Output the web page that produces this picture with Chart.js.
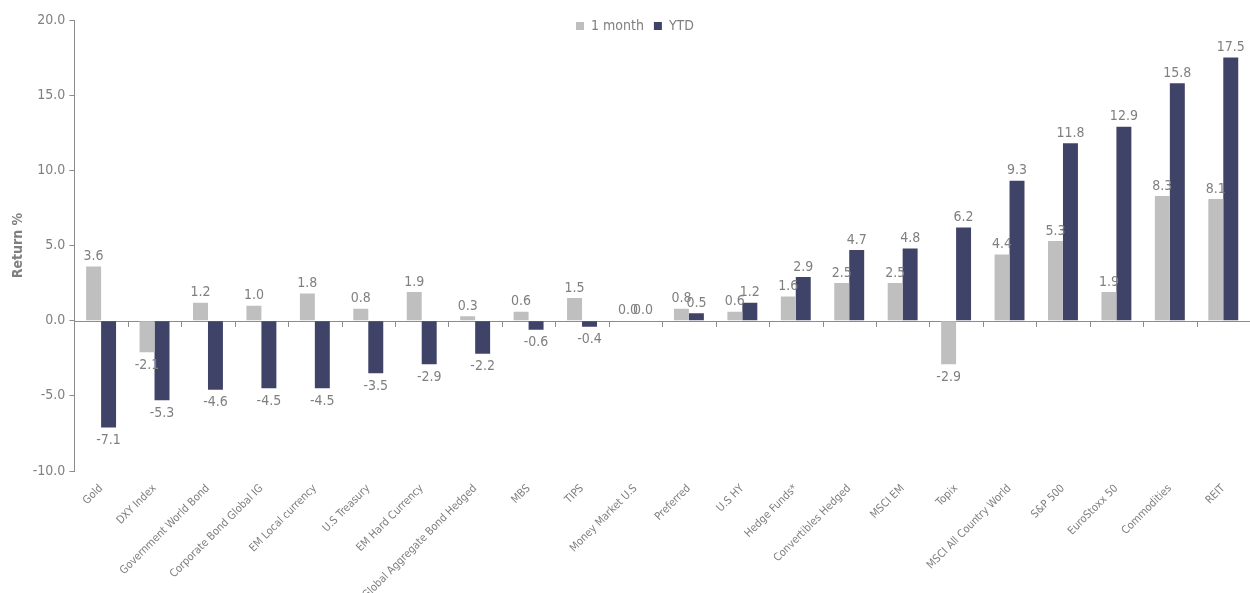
<!DOCTYPE html>
<html>
<head>
<meta charset="utf-8">
<script src="https://cdn.jsdelivr.net/npm/chart.js@4.4.0/dist/chart.umd.min.js"></script>
<style>
html,body{margin:0;padding:0;background:#fff;}
#wrap{width:1250px;height:593px;position:relative;}
</style>
</head>
<body>
<div id="wrap"><canvas id="c" width="1250" height="593"></canvas></div>
<script>
const categories = ["Gold","DXY Index","Government World Bond","Corporate Bond Global IG","EM Local currency","U.S Treasury","EM Hard Currency","Global Aggregate Bond Hedged","MBS","TIPS","Money Market U.S","Preferred","U.S HY","Hedge Funds*","Convertibles Hedged","MSCI EM","Topix","MSCI All Country World","S&P 500","EuroStoxx 50","Commodities","REIT"];
const oneMonth = [3.6,-2.1,1.2,1.0,1.8,0.8,1.9,0.3,0.6,1.5,0.0,0.8,0.6,1.6,2.5,2.5,-2.9,4.4,5.3,1.9,8.3,8.1];
const ytd = [-7.1,-5.3,-4.6,-4.5,-4.5,-3.5,-2.9,-2.2,-0.6,-0.4,0.0,0.5,1.2,2.9,4.7,4.8,6.2,9.3,11.8,12.9,15.8,17.5];
const seriesNames = ["1 month","YTD"];
const yMin = -10, yMax = 20, yStep = 5;

const FONT = "'DejaVu Sans Condensed', 'DejaVu Sans', Verdana, sans-serif";
const GREY = '#7f7f7f';

const overlay = {
  id: 'overlay',
  afterInit(chart) {
    const lg = chart.legend;
    if (lg) {
      const orig = lg.fit.bind(lg);
      lg.fit = function() { orig(); this.height = 0; };
    }
  },
  afterLayout(chart) {
    const lg = chart.legend;
    if (lg) {
      lg.top = chart.chartArea.top - 11;
      lg.height = 40;
      lg.bottom = lg.top + 40;
      lg.left = 20;
    }
  },
  beforeDatasetsDraw(chart) {
    const ctx = chart.ctx, xs = chart.scales.x, ys = chart.scales.y;
    const y0 = ys.getPixelForValue(0);
    const n = categories.length;
    const w = (xs.getPixelForValue(n - 1) - xs.getPixelForValue(0)) / (n - 1);
    ctx.save();
    ctx.strokeStyle = '#8c8c8c';
    ctx.lineWidth = 1;
    ctx.beginPath();
    ctx.moveTo(chart.chartArea.left, Math.round(y0) + 0.5);
    ctx.lineTo(chart.chartArea.right, Math.round(y0) + 0.5);
    for (let i = 1; i < n; i++) {
      const x = Math.round(xs.getPixelForValue(i) - w / 2) + 0.5;
      ctx.moveTo(x, Math.round(y0));
      ctx.lineTo(x, Math.round(y0) + 6);
    }
    ctx.stroke();
    ctx.restore();
  },
  afterDatasetsDraw(chart) {
    const ctx = chart.ctx;
    ctx.save();
    ctx.font = "14px " + FONT;
    ctx.fillStyle = GREY;
    ctx.textAlign = 'center';
    chart.data.datasets.forEach((ds, di) => {
      const meta = chart.getDatasetMeta(di);
      meta.data.forEach((bar, i) => {
        const v = ds.data[i];
        const txt = v.toFixed(1);
        if (v >= 0) {
          ctx.textBaseline = 'bottom';
          ctx.fillText(txt, bar.x, bar.y - 3);
        } else {
          ctx.textBaseline = 'top';
          ctx.fillText(txt, bar.x, bar.y + 6);
        }
      });
    });
    ctx.restore();
  }
};

new Chart(document.getElementById('c'), {
  type: 'bar',
  data: {
    labels: categories,
    datasets: [
      { label: seriesNames[0], data: oneMonth, backgroundColor: '#bfbfbf', categoryPercentage: 0.56, barPercentage: 1.0 },
      { label: seriesNames[1], data: ytd, backgroundColor: '#404368', categoryPercentage: 0.56, barPercentage: 1.0 }
    ]
  },
  options: {
    responsive: false,
    animation: false,
    layout: { padding: { top: 20, right: 0, left: 8, bottom: 0 } },
    plugins: {
      legend: {
        display: true,
        position: 'top',
        labels: { color: GREY, font: { family: FONT, size: 14 }, boxWidth: 8, boxHeight: 8, padding: 10 }
      },
      tooltip: { enabled: false }
    },
    scales: {
      x: {
        grid: { display: false },
        border: { display: false },
        ticks: { color: GREY, font: { family: FONT, size: 11 }, minRotation: 45, maxRotation: 45, autoSkip: false, padding: 3 },
        afterFit(scale) { scale.height = 122; }
      },
      y: {
        min: yMin, max: yMax,
        grid: { drawOnChartArea: false, drawTicks: true, tickLength: 5, color: '#8c8c8c' },
        border: { display: true, color: '#8c8c8c' },
        ticks: { stepSize: yStep, color: GREY, font: { family: FONT, size: 14 }, padding: 4, callback: v => Number(v).toFixed(1) },
        title: { display: true, text: 'Return %', color: GREY, font: { family: FONT, size: 14, weight: 'bold' }, padding: 2 }
      }
    }
  },
  plugins: [overlay]
});
</script>
</body>
</html>
